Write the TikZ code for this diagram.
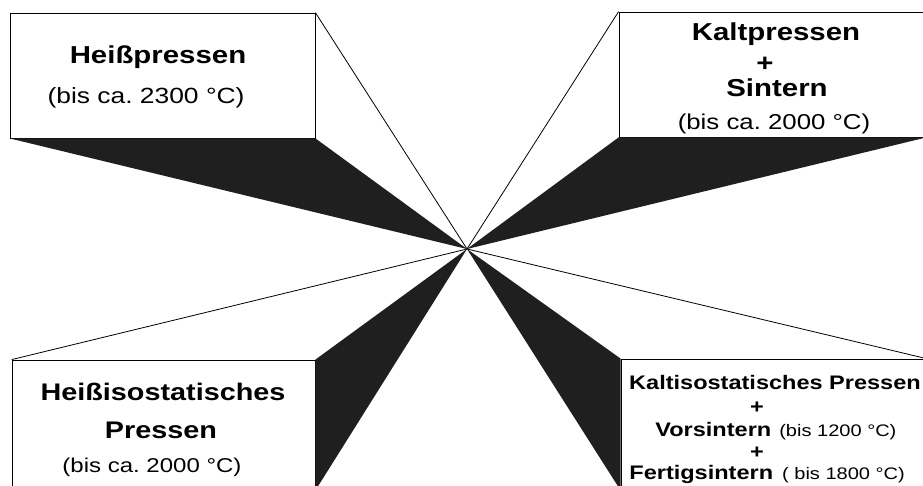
\documentclass[tikz,border=0pt]{standalone}
\usepackage{fontspec}
\setmainfont{Liberation Sans}[FakeStretch=1.2]
\usepackage{tikz}
\frenchspacing

\begin{document}
\begin{tikzpicture}[x=1pt, y=-1pt, line width=0.8pt,
    box/.style={draw, inner sep=0pt},
    wedge/.style={fill=black!88, draw=none},
    head/.style={anchor=base, inner sep=0pt, font=\bfseries\fontsize{24.5}{28}\selectfont},
    temp/.style={anchor=base, inner sep=0pt, font=\fontsize{22}{26}\selectfont},
    headS/.style={anchor=base, inner sep=0pt, font=\bfseries\fontsize{19.6}{23}\selectfont},
    line/.style={anchor=base west, inner sep=0pt, font=\bfseries\fontsize{19.6}{23}\selectfont}]
  \useasboundingbox (0,0) rectangle (923,486);

  \coordinate (hub) at (467,249);

  \node[box, minimum width=305pt, minimum height=125pt] (hp)  at (162.5,75.5)  {};
  \node[box, minimum width=307pt, minimum height=125pt] (kp)  at (772.5,74.5)  {};
  \node[box, minimum width=303pt, minimum height=130pt] (hip) at (163.5,425) {};
  \node[box, minimum width=305pt, minimum height=131pt] (kip) at (773.5,424.5) {};

  % wedges towards the middle
  \fill[wedge] (hp.south west) -- (hp.south east) -- (hub) -- cycle;
  \fill[wedge] (kp.south west) -- (kp.south east) -- (hub) -- cycle;
  \fill[wedge] (hip.north east) -- (hip.south east) -- (hub) -- cycle;
  \fill[wedge] (kip.north west) -- (kip.south west) -- (hub) -- cycle;

  \draw (hp.north east)  -- (hub);
  \draw (kp.north west)  -- (hub);
  \draw (hip.north west) -- (hub);
  \draw (kip.north east) -- (hub);

  \node[head] (hptitle) at (158,64)  { Heißpressen };
  \node[temp] (hptemp)  at (146,104) { (bis ca. 2300 °C) };

  \node[head] (kptitle) at (776,41)  { Kaltpressen };
  \node[head] (kpplus)  at (765,72)  { + };
  \node[head] (kpsint)  at (777,97)  { Sintern };
  \node[temp, font=\fontsize{21.5}{25}\selectfont] (kptemp) at (774,130) { (bis ca. 2000 °C) };

  \node[head, font=\bfseries\fontsize{24}{28}\selectfont] (hiptitle) at (163,400) { Heißisostatisches };
  \node[head, font=\bfseries\fontsize{24}{28}\selectfont] (hippress) at (161,438) { Pressen };
  \node[temp, font=\fontsize{20}{24}\selectfont] (hiptemp) at (152,472) { (bis ca. 2000 °C) };

  \node[headS] (kiptitle) at (775,389) { Kaltisostatisches Pressen };
  \node[headS] (kipplus)  at (757,413) { + };
  \node[line]  (kipvor)   at (655,436) { Vorsintern\hspace{8pt}{\mdseries\fontsize{16.7}{20}\selectfont (bis 1200 °C)} };
  \node[headS] (kipplus2) at (757,458) { + };
  \node[line]  (kipfert)  at (629,479) { Fertigsintern\hspace{9pt}{\mdseries\fontsize{16.7}{20}\selectfont ( bis 1800 °C)} };
\end{tikzpicture}
\end{document}
